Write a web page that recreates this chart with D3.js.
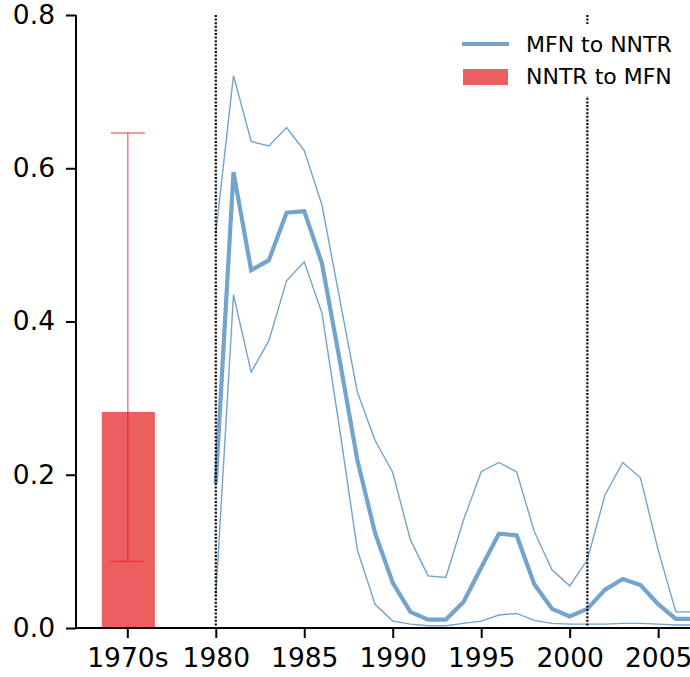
<!DOCTYPE html>
<html>
<head>
<meta charset="utf-8">
<script src="https://cdn.jsdelivr.net/npm/d3@7"></script>
<style>
  html, body { margin: 0; padding: 0; background: #fff; }
  svg { display: block; font-family: "DejaVu Sans", sans-serif; }
</style>
</head>
<body>
<svg id="chart" width="690" height="677"></svg>
<script>
// ---- data ----
const years = [1980,1981,1982,1983,1984,1985,1986,1987,1988,1989,1990,1991,1992,1993,
               1994,1995,1996,1997,1998,1999,2000,2001,2002,2003,2004,2005,2006,2007];
const mfnToNntrMean  = [0.189,0.595,0.467,0.480,0.542,0.544,0.476,0.350,0.219,0.124,0.059,0.021,0.011,0.011,
                        0.034,0.079,0.123,0.121,0.057,0.025,0.015,0.025,0.050,0.064,0.056,0.031,0.012,0.012];
const mfnToNntrUpper = [0.515,0.721,0.635,0.629,0.653,0.623,0.552,0.430,0.308,0.245,0.203,0.115,0.068,0.066,
                        0.141,0.204,0.216,0.204,0.126,0.076,0.055,0.089,0.174,0.216,0.196,0.102,0.021,0.021];
const mfnToNntrLower = [0.041,0.435,0.334,0.375,0.453,0.478,0.411,0.260,0.102,0.031,0.009,0.005,0.003,0.003,
                        0.006,0.009,0.017,0.019,0.010,0.006,0.005,0.005,0.005,0.006,0.006,0.005,0.004,0.004];
const barCategory = "1970s";
const barPosition = 1975;
const barValue = 0.282;
const barErrLow = 0.087;
const barErrHigh = 0.646;
const markerYears = [1980, 2001];
const xTickValues = [1975, 1980, 1985, 1990, 1995, 2000, 2005];
const xTickLabels = ["1970s", "1980", "1985", "1990", "1995", "2000", "2005"];
const yTickValues = [0, 0.2, 0.4, 0.6, 0.8];
const legendLabels = ["MFN to NNTR", "NNTR to MFN"];

(function () {
// ---- layout ----
const svg = d3.select("#chart");
const mLeft = 76, mRight = 690, mTop = 15, mBottom = 628;
const blue = "#377eb8", red = "#e41a1c";

const x = d3.scaleLinear().domain([1972.1, 2006.8]).range([mLeft, mRight]);
const y = d3.scaleLinear().domain([0, 0.8]).range([mBottom, mTop]);

svg.append("defs").append("clipPath").attr("id", "plotclip")
  .append("rect").attr("x", mLeft).attr("y", 0).attr("width", mRight - mLeft).attr("height", mBottom);

const plot = svg.append("g").attr("clip-path", "url(#plotclip)");

// bar
const barHalf = (x(barPosition + 1.5) - x(barPosition - 1.5)) / 2;
plot.append("rect")
  .attr("x", x(barPosition) - barHalf + 1)
  .attr("y", y(barValue))
  .attr("width", barHalf * 2)
  .attr("height", y(0) - y(barValue))
  .attr("fill", red).attr("fill-opacity", 0.7);

// error bar
const capHalf = 17;
const eg = plot.append("g").attr("stroke", red).attr("stroke-opacity", 0.6).attr("stroke-width", 1.4);
eg.append("line").attr("x1", x(barPosition) + 0.5).attr("x2", x(barPosition) + 0.5)
  .attr("y1", y(barErrLow)).attr("y2", y(barErrHigh));
[barErrLow, barErrHigh].forEach(v => {
  eg.append("line").attr("x1", x(barPosition) - capHalf + 0.5).attr("x2", x(barPosition) + capHalf + 0.5)
    .attr("y1", y(v)).attr("y2", y(v));
});

// lines
const line = vals => d3.line().x((d, i) => x(years[i])).y(d => y(d))(vals);
plot.append("path").attr("d", line(mfnToNntrUpper)).attr("fill", "none")
  .attr("stroke", blue).attr("stroke-opacity", 0.7).attr("stroke-width", 1.4);
plot.append("path").attr("d", line(mfnToNntrLower)).attr("fill", "none")
  .attr("stroke", blue).attr("stroke-opacity", 0.7).attr("stroke-width", 1.4);
plot.append("path").attr("d", line(mfnToNntrMean)).attr("fill", "none")
  .attr("stroke", blue).attr("stroke-opacity", 0.7).attr("stroke-width", 4.2)
  .attr("stroke-linejoin", "miter");

// dotted markers
markerYears.forEach(yr => {
  plot.append("line").attr("x1", x(yr)).attr("x2", x(yr))
    .attr("y1", mTop).attr("y2", mBottom)
    .attr("stroke", "#000").attr("stroke-width", 2.2).attr("stroke-dasharray", "2,1.6");
});

// axes
const yAxis = d3.axisLeft(y).tickValues(yTickValues).tickFormat(d3.format(".1f"))
  .tickSize(10).tickPadding(11);
const gy = svg.append("g").attr("transform", `translate(${mLeft},0)`).call(yAxis);
gy.select(".domain").attr("stroke-width", 2).attr("d", `M0,${mTop}V${mBottom}`);
gy.selectAll(".tick line").attr("stroke-width", 2);
gy.selectAll("text").attr("font-size", 26.5).attr("font-family", "DejaVu Sans").attr("fill", "#000");

const xAxis = d3.axisBottom(x).tickValues(xTickValues)
  .tickFormat((d, i) => xTickLabels[i]).tickSize(10).tickPadding(10);
const gx = svg.append("g").attr("transform", `translate(0,${mBottom})`).call(xAxis);
gx.select(".domain").attr("stroke-width", 2).attr("d", `M${mLeft},0H${mRight}`);
gx.selectAll(".tick line").attr("stroke-width", 2);
gx.selectAll("text").attr("font-size", 26.5).attr("font-family", "DejaVu Sans").attr("fill", "#000");

// legend
const lg = svg.append("g");
lg.append("rect").attr("x", 452).attr("y", 24).attr("width", 228).attr("height", 72).attr("fill", "#fff");
lg.append("line").attr("x1", 462).attr("x2", 509).attr("y1", 44).attr("y2", 44)
  .attr("stroke", blue).attr("stroke-opacity", 0.7).attr("stroke-width", 4.2);
lg.append("rect").attr("x", 463).attr("y", 69).attr("width", 45).attr("height", 16)
  .attr("fill", red).attr("fill-opacity", 0.7);
lg.append("text").attr("x", 526).attr("y", 52).attr("font-size", 22).text(legendLabels[0]);
lg.append("text").attr("x", 526).attr("y", 84).attr("font-size", 22).text(legendLabels[1]);
})();
</script>
</body>
</html>
